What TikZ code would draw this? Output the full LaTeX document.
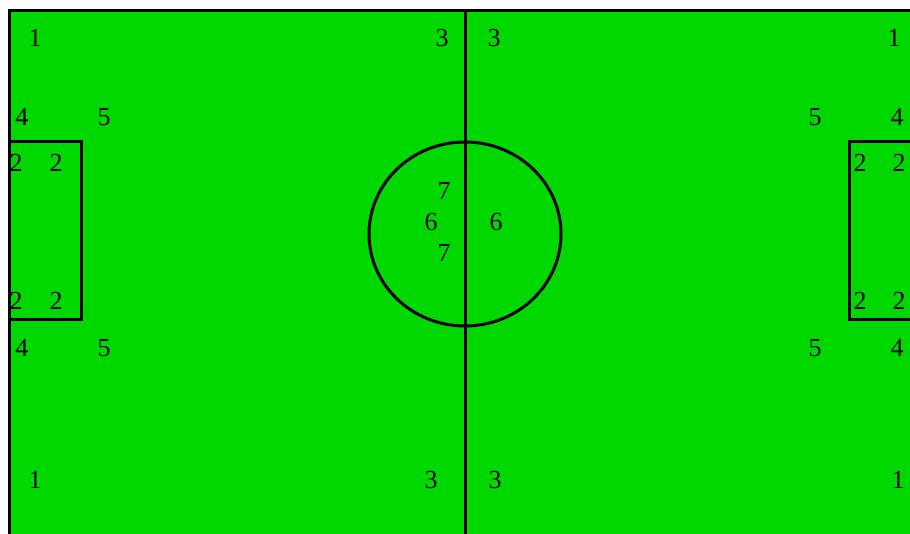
\documentclass[tikz,border=0pt]{standalone}
\usepackage{fontspec}
\setmainfont{Liberation Serif}
\definecolor{pitch}{RGB}{0,216,0}
\begin{document}
\begin{tikzpicture}[x=1pt,y=-1pt,
  lbl/.style={font=\fontsize{26}{26}\selectfont, inner sep=0pt, anchor=center},
  pline/.style={line width=3pt, black}]
\useasboundingbox (0,0) rectangle (910,534);
\clip (0,0) rectangle (910,534);
\fill[pitch] (9,11) rectangle (920,545);
\draw[pline] (920,11) -- (9,11) -- (9,545);
\draw[pline] (465,11) -- (465,545);
\draw[pline] (465,234) ellipse [x radius=96, y radius=92];
\draw[pline] (9,142) -- (81,142) -- (81,320) -- (9,320);
\draw[pline] (920,142) -- (849,142) -- (849,320) -- (920,320);
% labels
\node[lbl] (a1) at (35,38) {1};
\node[lbl] (a2) at (442,38) {3};
\node[lbl] (a3) at (494,38) {3};
\node[lbl] (a4) at (894,38) {1};
\node[lbl] (b1) at (22,117) {4};
\node[lbl] (b2) at (104,117) {5};
\node[lbl] (b3) at (815,117) {5};
\node[lbl] (b4) at (897,117) {4};
\node[lbl] (c1) at (16,163) {2};
\node[lbl] (c2) at (56,163) {2};
\node[lbl] (c3) at (860,163) {2};
\node[lbl] (c4) at (899,163) {2};
\node[lbl] (d1) at (444,191) {7};
\node[lbl] (d2) at (431,222) {6};
\node[lbl] (d3) at (496,222) {6};
\node[lbl] (d4) at (444,253) {7};
\node[lbl] (e1) at (16,301) {2};
\node[lbl] (e2) at (56,301) {2};
\node[lbl] (e3) at (860,301) {2};
\node[lbl] (e4) at (899,301) {2};
\node[lbl] (f1) at (22,348) {4};
\node[lbl] (f2) at (104,348) {5};
\node[lbl] (f3) at (815,348) {5};
\node[lbl] (f4) at (897,348) {4};
\node[lbl] (g1) at (35,480) {1};
\node[lbl] (g2) at (431,480) {3};
\node[lbl] (g3) at (495,480) {3};
\node[lbl] (g4) at (898,480) {1};
\end{tikzpicture}
\end{document}
